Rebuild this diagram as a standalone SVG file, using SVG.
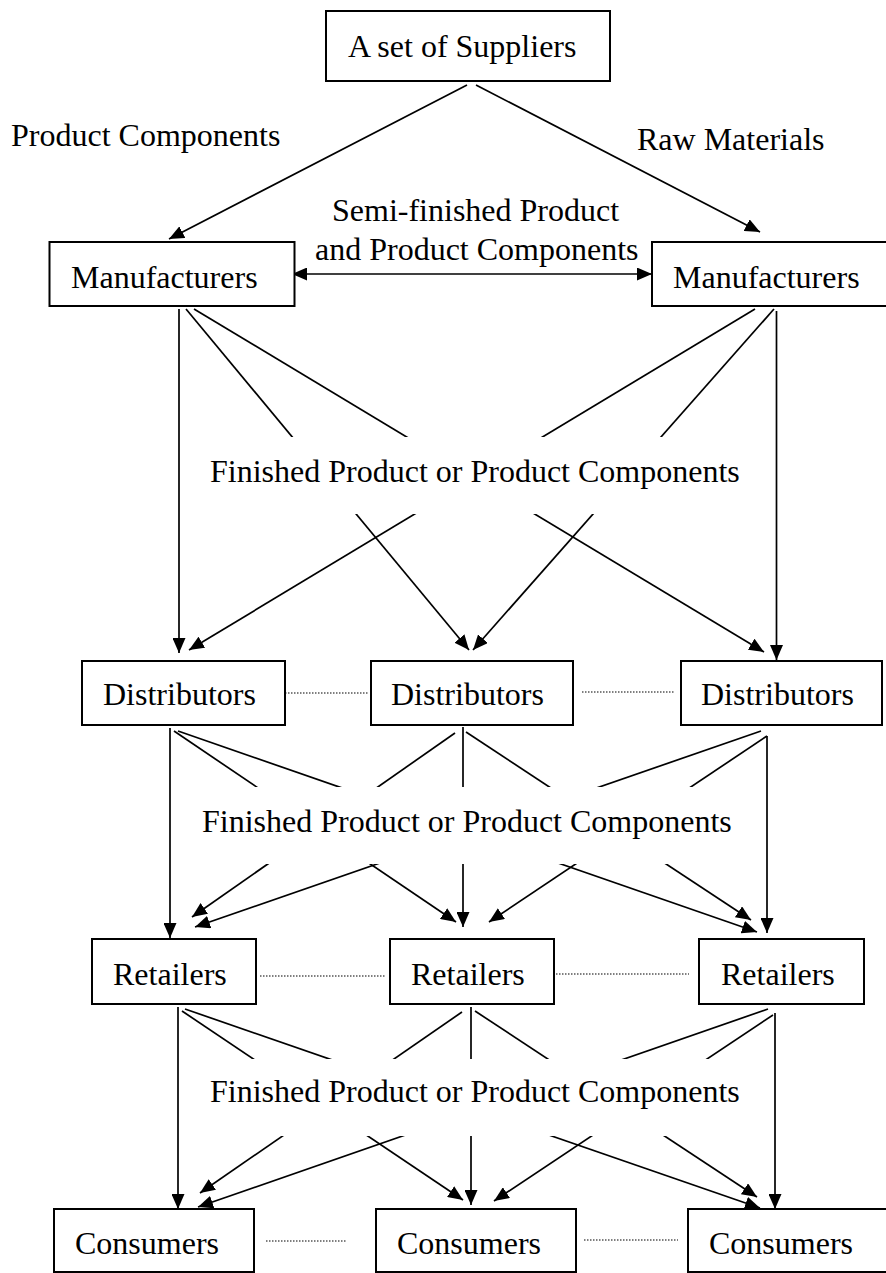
<svg xmlns="http://www.w3.org/2000/svg" width="886" height="1273" viewBox="0 0 886 1273">
<defs>
<marker id="ah" markerUnits="userSpaceOnUse" markerWidth="15" markerHeight="13" refX="15" refY="6.5" orient="auto-start-reverse"><path d="M0,0 L15,6.5 L0,13 z" fill="#000"/></marker>
</defs>
<style>
.box{fill:#fff;stroke:#000;stroke-width:2}
.t{font-family:"Liberation Serif","Times New Roman",serif;font-size:32px;fill:#000}
.c{stroke:#000;stroke-width:1.7;fill:none}
.a{marker-end:url(#ah)}
.dot{stroke:#000;stroke-width:1.2;stroke-dasharray:1.5 1.5;fill:none}
.bg{fill:#fff;stroke:none}
</style>
<rect width="886" height="1273" fill="#fff"/>

<g id="connectors">
  <line class="c a" x1="467" y1="85" x2="169" y2="239"/>
  <line class="c a" x1="476" y1="85" x2="760" y2="232"/>
  <line class="c a" x1="292" y1="274" x2="652" y2="274" marker-start="url(#ah)"/>

  <line class="c a" x1="179" y1="309" x2="179" y2="653"/>
  <line class="c a" x1="186" y1="309" x2="469" y2="650"/>
  <line class="c a" x1="194" y1="309" x2="764" y2="652"/>
  <line class="c a" x1="755" y1="309" x2="189" y2="650"/>
  <line class="c a" x1="774" y1="309" x2="473" y2="650"/>
  <line class="c a" x1="776.5" y1="311" x2="776.5" y2="660"/>

  <line class="c a" x1="170" y1="728" x2="170" y2="938"/>
  <line class="c a" x1="174" y1="731" x2="456" y2="922"/>
  <line class="c a" x1="178" y1="731" x2="757" y2="932"/>
  <line class="c a" x1="455" y1="733" x2="192" y2="917"/>
  <line class="c a" x1="463" y1="727" x2="463" y2="927"/>
  <line class="c a" x1="466" y1="732" x2="751" y2="920"/>
  <line class="c a" x1="761" y1="731" x2="195" y2="927"/>
  <line class="c a" x1="767" y1="736" x2="489" y2="922"/>
  <line class="c a" x1="767" y1="736" x2="767" y2="933"/>

  <line class="c a" x1="178" y1="1007" x2="178" y2="1209"/>
  <line class="c a" x1="182" y1="1011" x2="463" y2="1200"/>
  <line class="c a" x1="185" y1="1009" x2="760" y2="1208"/>
  <line class="c a" x1="462" y1="1012" x2="200" y2="1193"/>
  <line class="c a" x1="471" y1="1007" x2="471" y2="1205"/>
  <line class="c a" x1="475" y1="1011" x2="757" y2="1197"/>
  <line class="c a" x1="768" y1="1009" x2="198" y2="1207"/>
  <line class="c a" x1="773" y1="1015" x2="494" y2="1201"/>
  <line class="c a" x1="775" y1="1013" x2="775" y2="1209"/>

  <line class="dot" x1="285" y1="693" x2="368" y2="693"/>
  <line class="dot" x1="582" y1="692" x2="675" y2="692"/>
  <line class="dot" x1="260" y1="976" x2="386" y2="976"/>
  <line class="dot" x1="556" y1="974" x2="689" y2="974"/>
  <line class="dot" x1="266" y1="1241" x2="347" y2="1241"/>
  <line class="dot" x1="584" y1="1240" x2="678" y2="1240"/>
</g>

<g id="label-product-components"><text class="t" x="11" y="146">Product Components</text></g>
<g id="label-raw-materials"><text class="t" x="637" y="150">Raw Materials</text></g>
<g id="label-semi-finished">
  <text class="t" x="332" y="221">Semi-finished Product</text>
  <text class="t" x="315" y="260">and Product Components</text>
</g>
<g id="label-finished-1">
  <rect class="bg" x="192" y="437" width="572" height="77"/>
  <text class="t" x="210" y="482">Finished Product or Product Components</text>
</g>
<g id="label-finished-2">
  <rect class="bg" x="185" y="787" width="570" height="77"/>
  <text class="t" x="202" y="832">Finished Product or Product Components</text>
</g>
<g id="label-finished-3">
  <rect class="bg" x="190" y="1059" width="575" height="77"/>
  <text class="t" x="210" y="1102">Finished Product or Product Components</text>
</g>

<g id="suppliers"><rect class="box" x="326" y="11" width="284" height="70"/><text class="t" x="348" y="57">A set of Suppliers</text></g>
<g id="manufacturers-left"><rect class="box" x="49.5" y="242" width="245" height="64"/><text class="t" x="71" y="288">Manufacturers</text></g>
<g id="manufacturers-right"><rect class="box" x="652" y="242" width="240" height="64"/><text class="t" x="673" y="288">Manufacturers</text></g>

<g id="distributors-left"><rect class="box" x="82" y="661" width="203" height="64"/><text class="t" x="103" y="705">Distributors</text></g>
<g id="distributors-middle"><rect class="box" x="371" y="661" width="202" height="64"/><text class="t" x="391" y="705">Distributors</text></g>
<g id="distributors-right"><rect class="box" x="681" y="661" width="201" height="64"/><text class="t" x="701" y="705">Distributors</text></g>

<g id="retailers-left"><rect class="box" x="92" y="939" width="164" height="65"/><text class="t" x="113" y="985">Retailers</text></g>
<g id="retailers-middle"><rect class="box" x="390" y="939" width="164" height="65"/><text class="t" x="411" y="985">Retailers</text></g>
<g id="retailers-right"><rect class="box" x="699" y="939" width="165" height="65"/><text class="t" x="721" y="985">Retailers</text></g>

<g id="consumers-left"><rect class="box" x="54" y="1209" width="200" height="63"/><text class="t" x="75" y="1254">Consumers</text></g>
<g id="consumers-middle"><rect class="box" x="376" y="1209" width="200" height="63"/><text class="t" x="397" y="1254">Consumers</text></g>
<g id="consumers-right"><rect class="box" x="688" y="1209" width="204" height="63"/><text class="t" x="709" y="1254">Consumers</text></g>
</svg>
